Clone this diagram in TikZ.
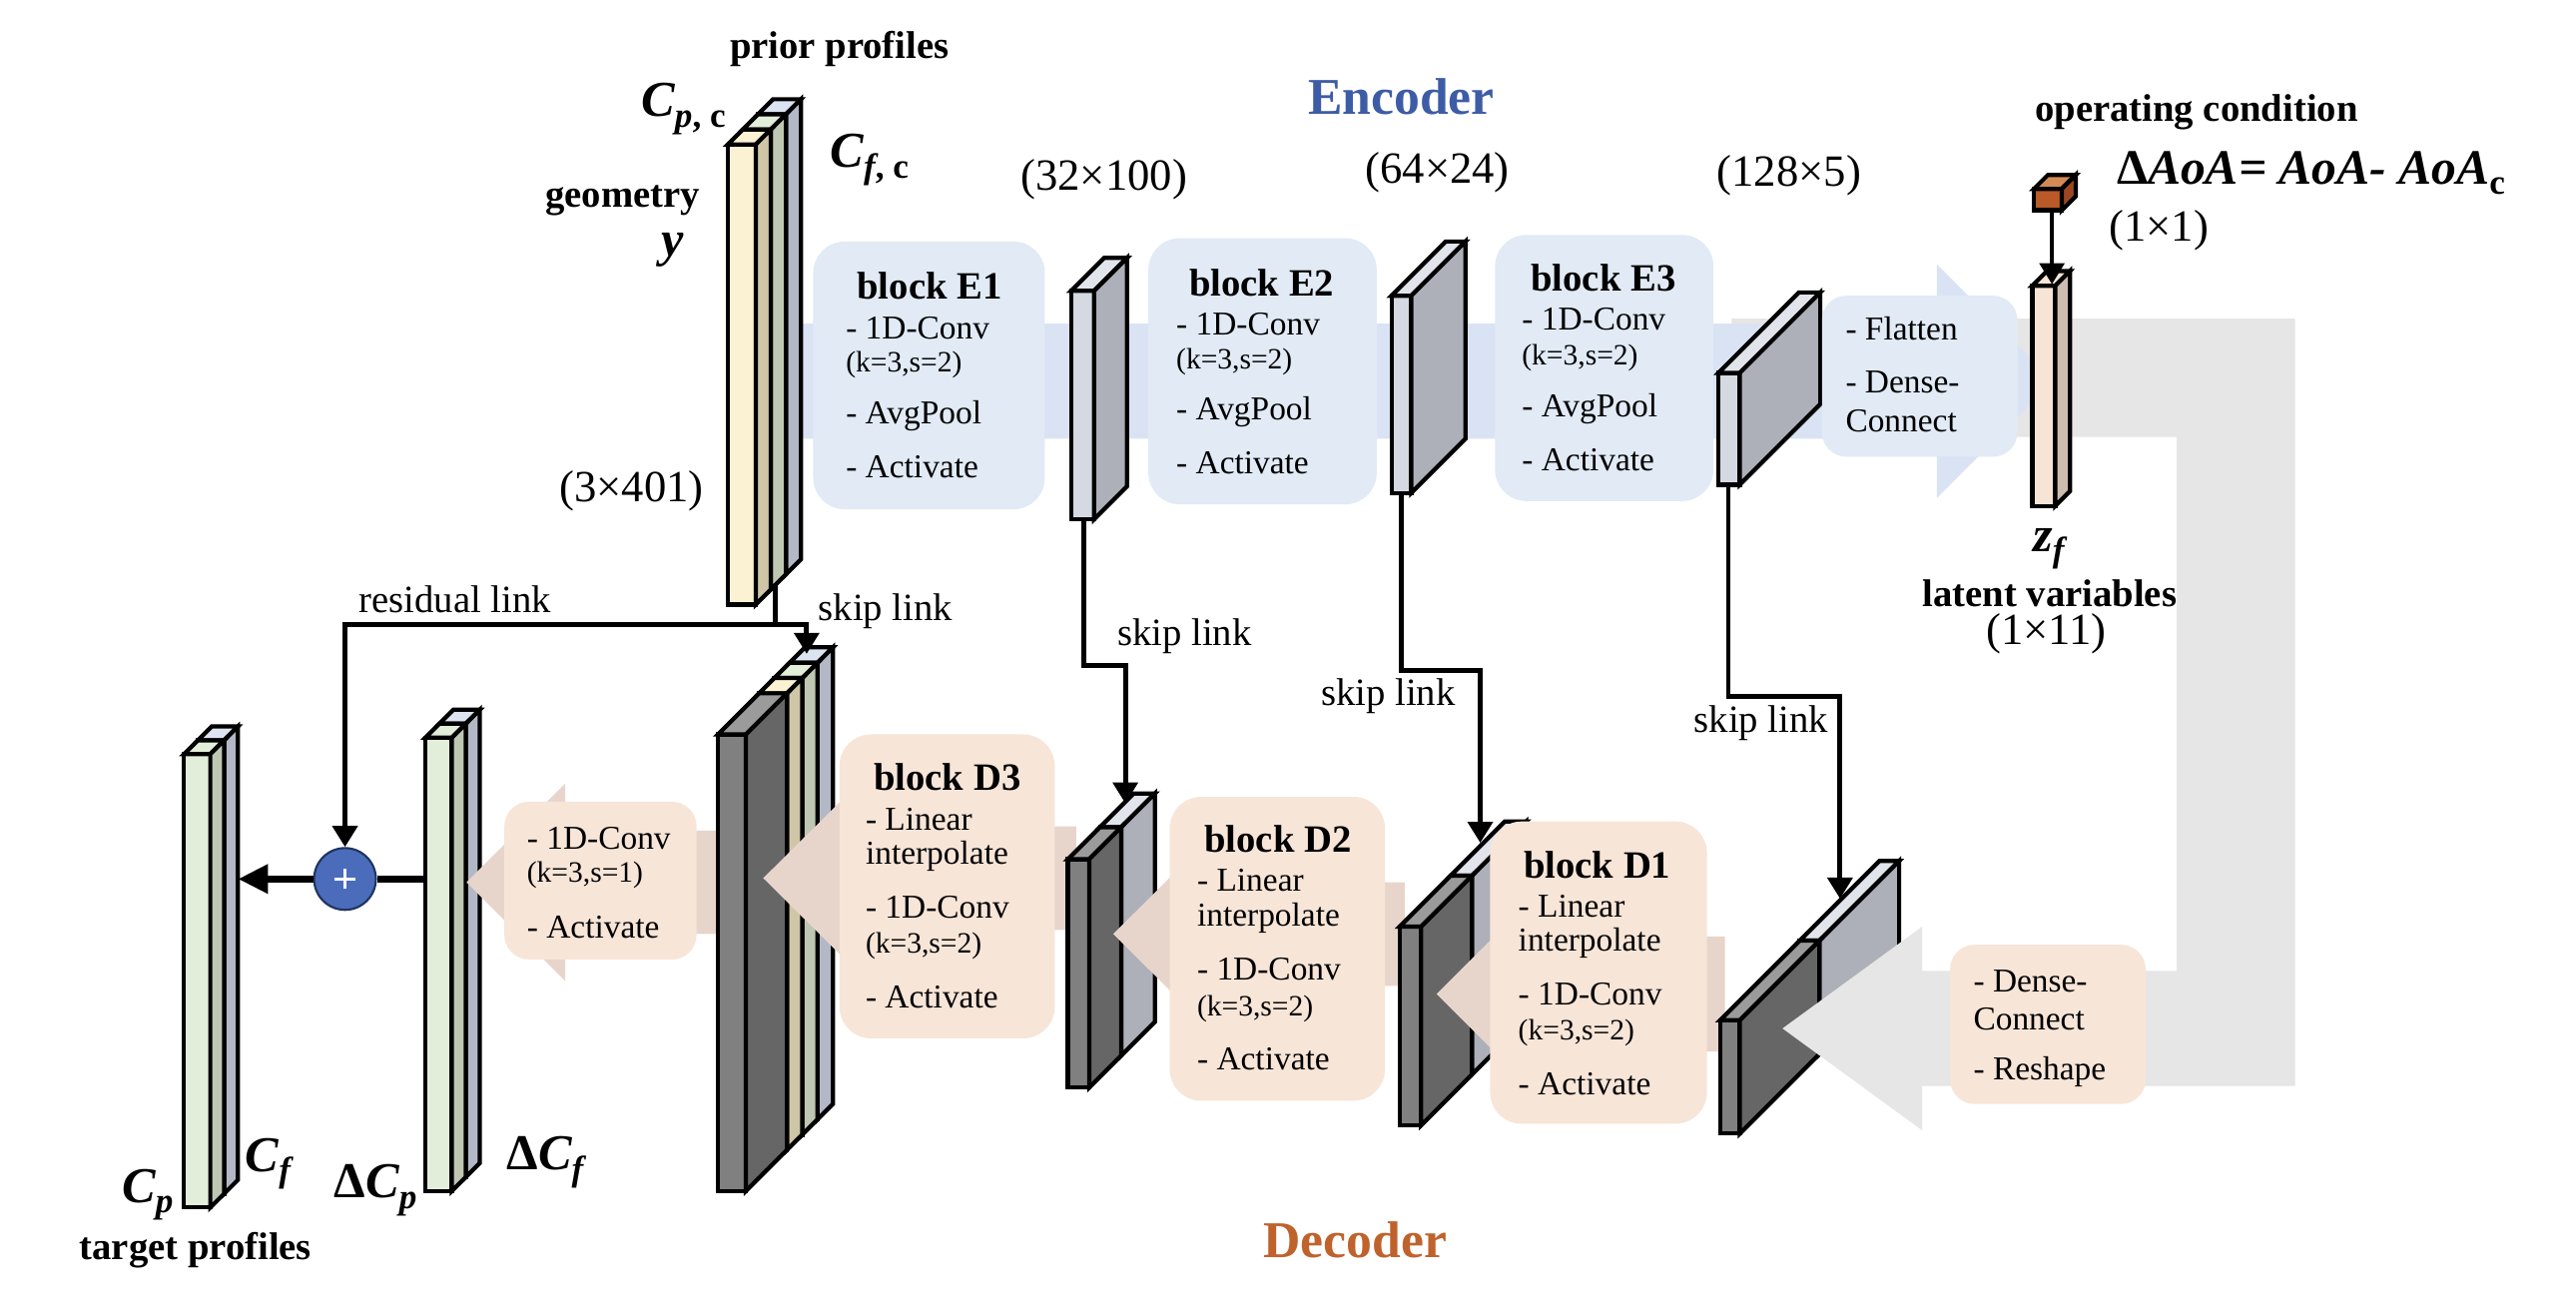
\documentclass[tikz,border=0pt]{standalone}
\usepackage{fontspec}
\setmainfont{Liberation Serif}
\usetikzlibrary{arrows.meta}
\definecolor{bandblue}{HTML}{DAE3F3}
\definecolor{boxblue}{HTML}{E1EAF5}
\definecolor{bandpeach}{HTML}{E7D5CB}
\definecolor{boxpeach}{HTML}{F7E5D8}
\definecolor{bandgray}{HTML}{E6E6E6}
\definecolor{ccream}{HTML}{FBF2D4}
\definecolor{ctan}{HTML}{CEC6A7}
\definecolor{cgreen}{HTML}{E3EEDA}
\definecolor{csage}{HTML}{BFC7B3}
\definecolor{cblue}{HTML}{DCE3F1}
\definecolor{cbgray}{HTML}{B3B8C7}
\definecolor{dfront}{HTML}{808080}
\definecolor{dtop}{HTML}{9B9B9B}
\definecolor{dside}{HTML}{666666}
\definecolor{lfront}{HTML}{D5D9E2}
\definecolor{ltop}{HTML}{E1E4EB}
\definecolor{lside}{HTML}{ADB0B8}
\definecolor{zfront}{HTML}{F6E5D7}
\definecolor{zside}{HTML}{CDBCB0}
\definecolor{cubef}{HTML}{B95A28}
\definecolor{cubet}{HTML}{D28A55}
\definecolor{cubes}{HTML}{9C4722}
\definecolor{encblue}{HTML}{3E5CA6}
\definecolor{decorange}{HTML}{C0622C}
\definecolor{plusblue}{HTML}{4A6CBB}
\definecolor{plusedge}{HTML}{1F3460}
% x1 x2 ytop ybot offset depth front top side
\newcommand\slablayer[9]{%
  \filldraw[slabline,fill=#7] ({#1+#5},{#3-#5}) rectangle ({#2+#5},{#4-#5});
  \filldraw[slabline,fill=#8] ({#1+#5},{#3-#5}) -- ({#1+#5+#6},{#3-#5-#6}) -- ({#2+#5+#6},{#3-#5-#6}) -- ({#2+#5},{#3-#5}) -- cycle;
  \filldraw[slabline,fill=#9] ({#2+#5},{#3-#5}) -- ({#2+#5+#6},{#3-#5-#6}) -- ({#2+#5+#6},{#4-#5-#6}) -- ({#2+#5},{#4-#5}) -- cycle;}
\newcommand\mlab[3]{{\fontsize{14.3}{16}\selectfont\bfseries\itshape #1}\raisebox{-0.3em}{\fontsize{10}{12}\selectfont\bfseries\itshape #2\upshape #3}}
\begin{document}
\begin{tikzpicture}[x=0.0164541cm,y=-0.0164541cm,
  slabline/.style={draw=black,line width=1.2pt},
  link/.style={line width=1.4pt,-{Triangle[width=7pt,length=6pt]}},
  ttl/.style={font=\fontsize{11}{13}\selectfont\bfseries,inner sep=0pt},
  bdy/.style={font=\fontsize{9.5}{11}\selectfont,anchor=west,inner sep=0pt},
  prm/.style={font=\fontsize{8.4}{10}\selectfont,anchor=west,inner sep=0pt},
  lnk/.style={font=\fontsize{11}{13}\selectfont,inner sep=0pt},
  dim/.style={font=\fontsize{12.7}{15}\selectfont,inner sep=0pt},
  blab/.style={font=\fontsize{11}{13}\selectfont\bfseries,inner sep=0pt},
  bigbox/.style={rounded corners=9pt},
  smallbox/.style={rounded corners=7pt}]
\useasboundingbox (0,0) rectangle (1568,801);
\fill[white] (0,0) rectangle (1568,801);

% ---------- output columns ----------
\slablayer{112}{128}{459}{735}{8.4}{8.4}{cblue}{cblue}{cbgray}
\slablayer{112}{128}{459}{735}{0}{8.4}{cgreen}{cgreen}{csage}
\slablayer{259}{275}{449}{725}{8.5}{8.5}{cblue}{cblue}{cbgray}
\slablayer{259}{275}{449}{725}{0}{8.5}{cgreen}{cgreen}{csage}

% final arrow
\fill[bandpeach] (440,505.5) -- (344,505.5) -- (344,477) -- (284,537) -- (344,597) -- (344,568.5) -- (440,568.5) -- cycle;
% D3 slab
\slablayer{437}{454}{447}{725}{43.6}{9.4}{cblue}{cblue}{cbgray}
\slablayer{437}{454}{447}{725}{34.3}{9.3}{cgreen}{cgreen}{csage}
\slablayer{437}{454}{447}{725}{25}{9.3}{ccream}{ccream}{ctan}
\slablayer{437}{454}{447}{725}{0}{25}{dfront}{dtop}{dside}
% D3 arrow
\fill[bandpeach] (655,503) -- (527,503) -- (527,472.5) -- (464.6,534.5) -- (527,596.5) -- (527,566) -- (655,566) -- cycle;
% D2 slab
\slablayer{650}{663}{523}{662}{19.5}{20.5}{lfront}{ltop}{lside}
\slablayer{650}{663}{523}{662}{0}{19.5}{dfront}{dtop}{dside}
% D2 arrow
\fill[bandpeach] (855,537) -- (740,537) -- (740,506.5) -- (677.6,568.5) -- (740,630.5) -- (740,600) -- (855,600) -- cycle;
% D1 slab
\slablayer{852}{865}{564}{685}{31}{33}{lfront}{ltop}{lside}
\slablayer{852}{865}{564}{685}{0}{31}{dfront}{dtop}{dside}
% D1 arrow
\fill[bandpeach] (1050,570) -- (936.5,570) -- (936.5,543) -- (874.5,605) -- (936.5,667) -- (936.5,640) -- (1050,640) -- cycle;
% D0 slab
\slablayer{1047}{1059}{621}{690}{48.5}{48.5}{lfront}{ltop}{lside}
\slablayer{1047}{1059}{621}{690}{0}{48.5}{dfront}{dtop}{dside}
% gray feedback path
\fill[bandgray] (1054,194) -- (1397,194) -- (1397,661) -- (1170,661) -- (1170,688) -- (1085,626) -- (1170,564) -- (1170,591) -- (1325,591) -- (1325,266) -- (1054,266) -- cycle;
% encoder band
\fill[bandblue] (470,197) -- (1179,197) -- (1179,161) -- (1250,232) -- (1179,303) -- (1179,267) -- (470,267) -- cycle;

% prior stack
\slablayer{443}{460}{88}{368}{18.4}{9.2}{cblue}{cblue}{cbgray}
\slablayer{443}{460}{88}{368}{9.2}{9.2}{cgreen}{cgreen}{csage}
\slablayer{443}{460}{88}{368}{0}{9.2}{ccream}{ccream}{ctan}
% encoder slabs
\slablayer{652}{666}{177}{316}{0}{20}{lfront}{ltop}{lside}
\slablayer{847}{859}{180}{300}{0}{33}{lfront}{ltop}{lside}
\slablayer{1046}{1059}{227}{295}{0}{49}{lfront}{ltop}{lside}
% latent column and cube
\slablayer{1237}{1251}{174}{308}{0}{9}{zfront}{zfront}{zside}
\slablayer{1238}{1255}{115}{128}{0}{8.5}{cubef}{cubet}{cubes}

% ---------- boxes ----------
\fill[boxblue,bigbox] (495,147) rectangle (636,310);
\fill[boxblue,bigbox] (699,145) rectangle (838,307);
\fill[boxblue,bigbox] (910,143) rectangle (1043,305);
\fill[boxblue,smallbox] (1109,180) rectangle (1228,278);
\fill[boxpeach,bigbox] (511,447) rectangle (642,632);
\fill[boxpeach,bigbox] (712,485) rectangle (843,670);
\fill[boxpeach,bigbox] (907,500) rectangle (1039,684);
\fill[boxpeach,smallbox] (1187,575) rectangle (1306,672);
\fill[boxpeach,smallbox] (307,488) rectangle (424,584);

% ---------- links ----------
\coordinate (pbot) at (472,356);
\coordinate (pj) at (472,380);
\coordinate (d3top) at (491,398);
\coordinate (s1bot) at (659.5,316);
\coordinate (d2top) at (685,489);
\coordinate (s2bot) at (853,300);
\coordinate (d1top) at (901,513);
\coordinate (s3bot) at (1052,295);
\coordinate (d0top) at (1120,547);
\coordinate (cubebot) at (1249,128);
\coordinate (zftop) at (1249,173);
\coordinate (dcin) at (259,535);
\coordinate (cpside) at (145,535);

\node[circle,fill=plusblue,draw=plusedge,line width=0.6pt,minimum size=17.6pt,inner sep=0pt] (plus) at (210,535) {};
\draw[white,line width=0.8pt] ([xshift=-2.9pt]plus.center) -- ([xshift=2.9pt]plus.center);
\draw[white,line width=0.8pt] ([yshift=-2.9pt]plus.center) -- ([yshift=2.9pt]plus.center);

\draw[line width=1.4pt] (pbot) -- (pj);
\draw[link] (pj) -| (d3top);
\draw[link] (pj) -| (plus.north);
\draw[link] (s1bot) |- (685,405) -- (d2top);
\draw[link] (s2bot) |- (901,408) -- (d1top);
\draw[link] (s3bot) |- (1120,424) -- (d0top);
\draw[link,line width=1.2pt] (cubebot) -- (zftop);
\draw[line width=1.9pt] (dcin) -- (plus.east);
\draw[line width=1.9pt,-{Triangle[width=8pt,length=8.5pt]}] (plus.west) -- (cpside);

% ---------- texts ----------
\node[font=\fontsize{14.7}{17}\selectfont\bfseries,text=encblue,inner sep=0pt] (tenc) at (853,59) {Encoder};
\node[font=\fontsize{14.7}{17}\selectfont\bfseries,text=decorange,inner sep=0pt] (tdec) at (825,755) {Decoder};

\node[blab] (tprior) at (511,30) {prior profiles};
\node[anchor=base west,inner sep=0pt] (tcpc) at (390,71) {\mlab{C}{p}{, c}};
\node[anchor=base west,inner sep=0pt] (tcfc) at (505,102) {\mlab{C}{f}{, c}};
\node[blab] (tgeo) at (379,122) {geometry};
\node[inner sep=0pt,font=\fontsize{14.3}{16}\selectfont\bfseries\itshape] (ty) at (409.5,152) {y};
\node[dim] (t3401) at (384.5,299) {(3×401)};
\node[dim] (t32) at (672,109) {(32×100)};
\node[dim] (t64) at (875,105) {(64×24)};
\node[dim] (t128) at (1089,107) {(128×5)};
\node[blab] (top) at (1337,68) {operating condition};
\node[anchor=base west,inner sep=0pt] (taoa) at (1288,112) {{\fontsize{14.1}{16}\selectfont\bfseries Δ\itshape AoA= AoA- AoA}\raisebox{-0.3em}{\fontsize{10}{12}\selectfont\bfseries c}};
\node[dim] (t11) at (1314,140) {(1×1)};
\node[inner sep=0pt] (tzf) at (1247,334) {\mlab{z}{f}{}};
\node[blab] (tlat) at (1247.6,361) {latent variables};
\node[dim] (t111) at (1245.5,386) {(1×11)};

\node[lnk] (tres) at (277,365) {residual link};
\node[lnk] (tsk0) at (539,372) {skip link};
\node[lnk] (tsk1) at (721,387) {skip link};
\node[lnk] (tsk2) at (845,424) {skip link};
\node[lnk] (tsk3) at (1072,440) {skip link};

\node[anchor=base west,inner sep=0pt] (tcp) at (74,732) {\mlab{C}{p}{}};
\node[anchor=base west,inner sep=0pt] (tcf) at (149,713) {\mlab{C}{f}{}};
\node[anchor=base west,inner sep=0pt] (tdcp) at (203,729) {{\fontsize{14.3}{16}\selectfont\bfseries Δ}\mlab{C}{p}{}};
\node[anchor=base west,inner sep=0pt] (tdcf) at (308,712) {{\fontsize{14.3}{16}\selectfont\bfseries Δ}\mlab{C}{f}{}};
\node[blab] (ttarget) at (119,761) {target profiles};

% encoder block texts
\node[ttl] (e1t) at (565.8,174) {block E1};
\node[bdy] (e1a) at (514.5,200) {- 1D-Conv};
\node[prm] (e1b) at (514.5,222) {(k=3,s=2)};
\node[bdy] (e1c) at (514.5,253) {- AvgPool};
\node[bdy] (e1d) at (514.5,284) {- Activate};
\node[ttl] (e2t) at (768,172) {block E2};
\node[bdy] (e2a) at (715.6,197) {- 1D-Conv};
\node[prm] (e2b) at (715.6,220) {(k=3,s=2)};
\node[bdy] (e2c) at (715.6,251) {- AvgPool};
\node[bdy] (e2d) at (715.6,282) {- Activate};
\node[ttl] (e3t) at (976,169) {block E3};
\node[bdy] (e3a) at (926,194) {- 1D-Conv};
\node[prm] (e3b) at (926,218) {(k=3,s=2)};
\node[bdy] (e3c) at (926,249) {- AvgPool};
\node[bdy] (e3d) at (926,280) {- Activate};
\node[bdy] (fla) at (1123,200) {- Flatten};
\node[bdy] (flb) at (1123,232.5) {- Dense-};
\node[bdy] (flc) at (1123,256) {Connect};

% decoder block texts
\node[ttl] (d3t) at (576.6,473) {block D3};
\node[bdy] (d3a) at (526.5,498.5) {- Linear};
\node[bdy] (d3b) at (526.5,521) {interpolate};
\node[bdy] (d3c) at (526.5,552) {- 1D-Conv};
\node[prm] (d3d) at (526.5,576) {(k=3,s=2)};
\node[bdy] (d3e) at (526.5,607) {- Activate};
\node[ttl] (d2t) at (777.9,510.5) {block D2};
\node[bdy] (d2a) at (728.3,536) {- Linear};
\node[bdy] (d2b) at (728.3,559) {interpolate};
\node[bdy] (d2c) at (728.3,589.6) {- 1D-Conv};
\node[prm] (d2d) at (728.3,614.3) {(k=3,s=2)};
\node[bdy] (d2e) at (728.3,644.6) {- Activate};
\node[ttl] (d1t) at (972.2,526.4) {block D1};
\node[bdy] (d1a) at (923.8,551.5) {- Linear};
\node[bdy] (d1b) at (923.8,574) {interpolate};
\node[bdy] (d1c) at (923.8,604.8) {- 1D-Conv};
\node[prm] (d1d) at (923.8,628.8) {(k=3,s=2)};
\node[bdy] (d1e) at (923.8,659.7) {- Activate};
\node[bdy] (dra) at (1200.8,597.5) {- Dense-};
\node[bdy] (drb) at (1200.8,620) {Connect};
\node[bdy] (drc) at (1200.8,652.5) {- Reshape};
\node[bdy] (fca) at (320.4,510) {- 1D-Conv};
\node[prm] (fcb) at (320.4,532.7) {(k=3,s=1)};
\node[bdy] (fcc) at (320.4,564.6) {- Activate};
\end{tikzpicture}
\end{document}
